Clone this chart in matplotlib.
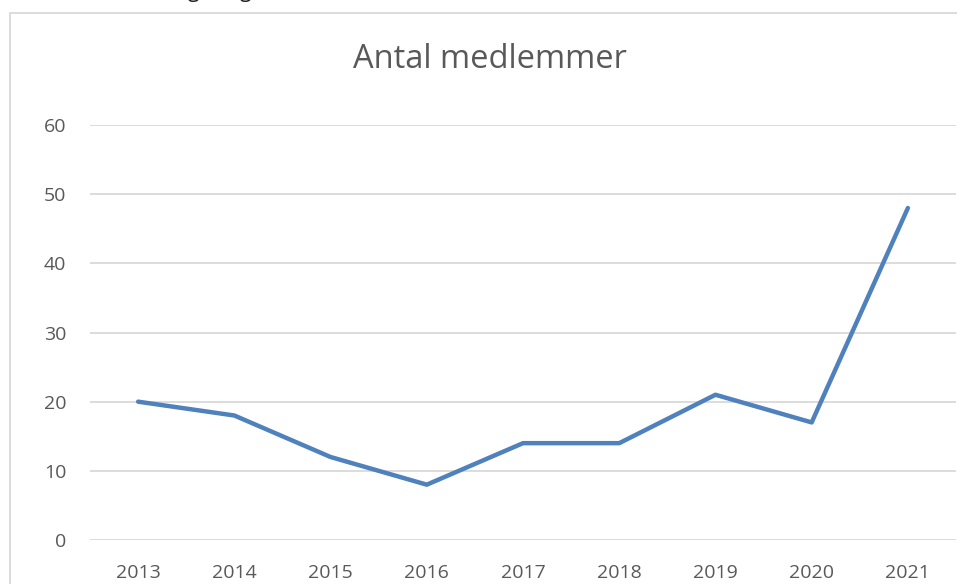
import matplotlib
matplotlib.use("Agg")
import matplotlib.pyplot as plt
from matplotlib.patches import Rectangle

# data
years = ["2013", "2014", "2015", "2016", "2017", "2018", "2019", "2020", "2021"]
members = [20, 18, 12, 8, 14, 14, 21, 17, 48]
y_ticks = [0, 10, 20, 30, 40, 50, 60]

plt.rcParams['font.family'] = ['Open Sans', 'DejaVu Sans']

fig = plt.figure(figsize=(9.57, 5.84), dpi=100)
ax = fig.add_axes([90 / 957, 44 / 584, 866 / 957, 415 / 584])

# chart frame (cut off at right/bottom like the screenshot)
fig.patches.append(Rectangle((10 / 957, -0.2), 1.2, (584 - 13) / 584 + 0.2,
                             transform=fig.transFigure, fill=False,
                             edgecolor="#d9d9d9", linewidth=1.3))

# remnants of text above the chart, only descenders visible
for gx in [193, 245]:
    fig.text(gx / 957, 1.0 + 3 / 584, "g", fontsize=15, color="#222222",
             ha="center", va="baseline")

x = list(range(len(years)))
ax.plot(x, members, color="#4f81bd", linewidth=3.2, solid_capstyle="round",
        solid_joinstyle="round", zorder=3)

ax.set_xlim(-0.5, len(years) - 0.5)
ax.set_ylim(0, 60)
ax.set_yticks(y_ticks)
ax.set_xticks(x)
ax.set_xticklabels(years)
ax.grid(axis="y", color="#d9d9d9", linewidth=1.3)
ax.set_axisbelow(True)
for s in ax.spines.values():
    s.set_visible(False)
ax.tick_params(axis="both", length=0, labelsize=14, labelcolor="#595959")
ax.tick_params(axis="y", pad=17)
ax.tick_params(axis="x", pad=17)

fig.text(490 / 957, 1 - 60 / 584, "Antal medlemmer", fontsize=23.5,
         color="#595959", ha="center", va="center")

fig.savefig("out.png", dpi=100)
